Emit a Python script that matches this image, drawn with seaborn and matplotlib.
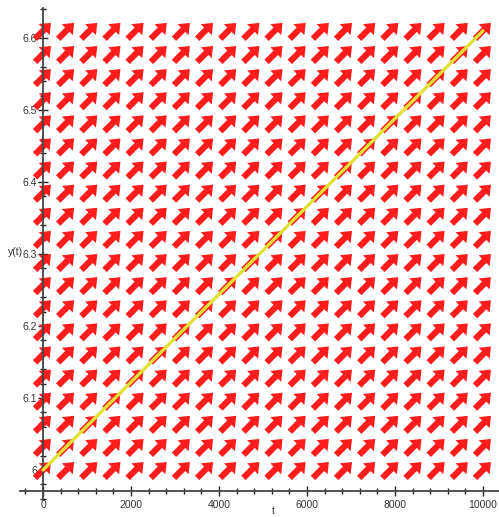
import numpy as np
import matplotlib
matplotlib.use("Agg")
import matplotlib.pyplot as plt
from matplotlib.ticker import MultipleLocator, FormatStrFormatter
import seaborn as sns
import pandas as pd

# Solution curve of the ODE (endpoints of the straight-line solution)
t_solution = [0, 10000]
y_solution = [6.0, 6.61]

# Constant rate dy/dt used for the direction field
rate = 6.1e-5

# Direction-field window and arrow grid size
t_range = [0, 10000]
y_range = [6.0, 6.61]
n_arrows = 20

x_ticks = [0, 2000, 4000, 6000, 8000, 10000]
y_ticks = [6.0, 6.1, 6.2, 6.3, 6.4, 6.5, 6.6]

sns.set_theme(style="white")
plt.rcParams["font.family"] = ["Liberation Sans", "DejaVu Sans"]

fig = plt.figure(figsize=(4.99, 5.17), dpi=100)
ax = fig.add_axes([20 / 499, 1 - 500 / 517, 479 / 499, 492 / 517])
ax.set_facecolor("white")

tg, yg = np.meshgrid(np.linspace(*t_range, n_arrows), np.linspace(*y_range, n_arrows))
U = np.ones_like(tg)
V = np.full_like(yg, rate)
ax.quiver(tg, yg, U, V, angles="xy", pivot="middle", units="dots",
          scale_units="dots", scale=1 / 22.5, width=6.2, headwidth=2.5,
          headlength=1.55, headaxislength=1.55, color="#ff1c1c",
          edgecolor="none", zorder=2)

sol = pd.DataFrame({"t": t_solution, "y": y_solution})
sns.lineplot(data=sol, x="t", y="y", ax=ax, color="#e2e236", linewidth=2.4,
             zorder=4)

ax.set_xlim(-523, 10364)
ax.set_ylim(5.9583, 6.6417)

for s in ["top", "right"]:
    ax.spines[s].set_visible(False)
ax.spines["left"].set_position(("data", 0))
ax.spines["bottom"].set_position(("data", 5.9708))
for s in ["left", "bottom"]:
    ax.spines[s].set_color("#444444")
    ax.spines[s].set_linewidth(1.3)
    ax.spines[s].set_zorder(3)

ax.set_xticks(x_ticks)
ax.set_yticks(y_ticks)
ax.xaxis.set_minor_locator(MultipleLocator(400))
ax.yaxis.set_minor_locator(MultipleLocator(0.02))
ax.yaxis.set_major_formatter(FormatStrFormatter("%g"))
ax.tick_params(which="major", direction="inout", length=7, width=1.0,
               color="#222222", labelsize=7.5, labelcolor="#333333", pad=1)
ax.tick_params(which="minor", direction="inout", length=5, width=1.0,
               color="#222222")
ax.tick_params(axis="x", pad=3)
ax.tick_params(bottom=True, left=True, which="both")
ax.set_xlabel("")
ax.set_ylabel("")

fig.text(8 / 499, 1 - 252 / 517, "y(t)", fontsize=7.5, color="#333333",
         ha="left", va="center")
fig.text(273 / 499, 1 / 517, "t", fontsize=7, color="#333333",
         ha="center", va="bottom")

fig.savefig("out.png", dpi=100, facecolor="white")
